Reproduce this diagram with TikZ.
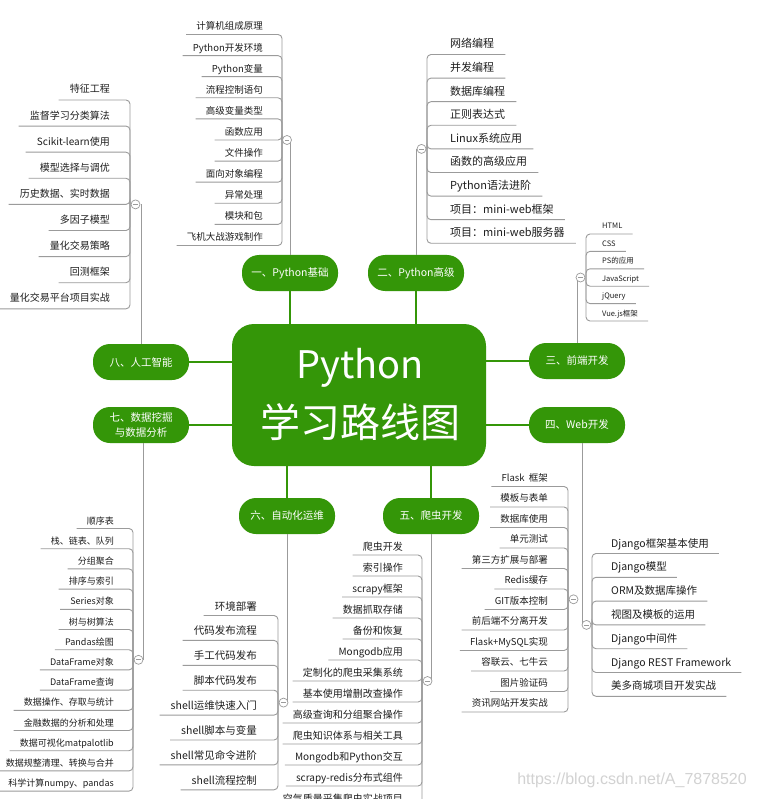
\documentclass[tikz,border=0pt]{standalone}
\usepackage{fontspec}
\setmainfont{Noto Sans CJK SC}
\newfontfamily\wmfont{Liberation Sans}
\usetikzlibrary{calc}
\definecolor{mygreen}{RGB}{52,150,8}
\definecolor{linegray}{RGB}{155,155,155}
\definecolor{txt}{RGB}{30,30,30}
\tikzset{
  topic/.style={fill=mygreen, text=white, rounded corners=17pt, minimum width=96pt, minimum height=36pt, inner sep=0pt, align=center, font=\fontsize{10.5}{15}\selectfont},
  gr/.style={draw=mygreen, line width=2.2pt},
  gl/.style={draw=linegray, line width=0.9pt, rounded corners=4pt},
  item/.style={inner sep=0pt, text height=0.8em, text depth=0.2em, text=txt},
  circ/.style={circle, draw=linegray, fill=white, line width=0.7pt, minimum size=9pt, inner sep=0pt,
    path picture={\draw[linegray, line width=0.7pt] ([xshift=-2.2pt]path picture bounding box.center) -- ([xshift=2.2pt]path picture bounding box.center);}},
}
\begin{document}
\begin{tikzpicture}[x=1pt, y=-1pt]
\useasboundingbox (0,0) rectangle (756,799);
\clip (0,0) rectangle (756,799);
\fill[white] (0,0) rectangle (756,799);

% centre
\node[fill=mygreen, rounded corners=22pt, minimum width=254pt, minimum height=142pt, inner sep=0pt] (C) at (359,395) {};
\node[text=white, font=\fontsize{38}{40}\selectfont, inner sep=0pt] (CP) at (360,368) {Python};
\node[text=white, font=\fontsize{40}{42}\selectfont, inner sep=0pt] (CQ) at (360,422) {学习路线图};

% topics
\node[topic] (T1) at (290,273) {一、Python基础};
\node[topic] (T2) at (416,273) {二、Python高级};
\node[topic] (T3) at (577,361) {三、前端开发};
\node[topic] (T4) at (577,425) {四、Web开发};
\node[topic] (T5) at (431,516) {五、爬虫开发};
\node[topic] (T6) at (287,516) {六、自动化运维};
\node[topic] (T7) at (141,425) {七、数据挖掘\\与数据分析};
\node[topic] (T8) at (141,362) {八、人工智能};

\draw[gr] (T1.south) -- (T1.south |- C.north);
\draw[gr] (T2.south) -- (T2.south |- C.north);
\draw[gr] (T3.west) -- (T3.west -| C.east);
\draw[gr] (T4.west) -- (T4.west -| C.east);
\draw[gr] (T5.north) -- (T5.north |- C.south);
\draw[gr] (T6.north) -- (T6.north |- C.south);
\draw[gr] (T7.east) -- (T7.east -| C.west);
\draw[gr] (T8.east) -- (T8.east -| C.west);

% circle positions
\coordinate (cA) at (287,140);
\coordinate (cH) at (135.5,204.4);
\coordinate (cB) at (421.5,148.9);
\coordinate (cC) at (580.5,277.5);
\coordinate (cF) at (573.5,599.3);
\coordinate (cD) at (586.5,624.9);
\coordinate (cS) at (138.5,659.8);
\coordinate (cR) at (283.5,702.6);
\coordinate (cW) at (427.5,681);

% parent gray lines
\draw[gl] (T1.north) -- (T1.north |- cA);
\draw[gl] (T2.north) -- (T2.north |- cB);
\draw[gl] (T3.north) -- (T3.north |- cC);
\draw[gl] (T8.north) -- (T8.north |- cH);
\draw[gl] ([xshift=5pt]T4.south) -- ([xshift=5pt]T4.south |- cD);
\draw[gl] ([xshift=2pt]T7.south) -- ([xshift=2pt]T7.south |- cS);
\draw[gl] (T6.south) -- (T6.south |- cR);
\draw[gl] (T5.south) -- (T5.south |- cW);

% list 一
\foreach \t [count=\i] in {计算机组成原理, Python开发环境, Python变量, 流程控制语句, 高级变量类型, 函数应用, 文件操作, 面向对象编程, 异常处理, 模块和包, 飞机大战游戏制作}{
  \node[item, font=\fontsize{9.5}{11}\selectfont, anchor=east] (A\i) at (263,{27+(\i-1)*21.1}) {\t};
  \draw[gl] ([xshift=-10pt,yshift=-7.5pt]A\i.west) -| (282,140);
}
% list 八
\foreach \t [count=\i] in {特征工程, 监督学习分类算法, Scikit-learn使用, 模型选择与调优, 历史数据、实时数据, 多因子模型, 量化交易策略, 回测框架, 量化交易平台项目实战}{
  \node[item, font=\fontsize{10}{12}\selectfont, anchor=east] (H\i) at (110,{90+(\i-1)*26.1}) {\t};
  \draw[gl] ([xshift=-11pt,yshift=-10pt]H\i.west) -| (130,204.4);
}
% list 二
\foreach \t [count=\i] in {网络编程, 并发编程, 数据库编程, 正则表达式, Linux系统应用, 函数的高级应用, Python语法进阶, 项目：mini-web框架, 项目：mini-web服务器}{
  \node[item, font=\fontsize{11}{13}\selectfont, anchor=west] (B\i) at (450,{45+(\i-1)*23.6}) {\t};
  \draw[gl] ([xshift=11pt,yshift=-9.5pt]B\i.east) -| (427,148.9);
}
% list 三
\foreach \t [count=\i] in {HTML, CSS, PS的应用, JavaScript, jQuery, Vue.js框架}{
  \node[item, font=\fontsize{7.5}{9}\selectfont, anchor=west] (E\i) at (602,{226+(\i-1)*17.4}) {\t};
  \draw[gl] ([xshift=10pt,yshift=-8pt]E\i.east) -| (586,277.5);
}
% list Flask
\foreach \t [count=\i] in {Flask\ \ 框架, 模板与表单, 数据库使用, 单元测试, 第三方扩展与部署, Redis缓存, GIT版本控制, 前后端不分离开发, Flask+MySQL实现, 容联云、七牛云, 图片验证码, 资讯网站开发实战}{
  \node[item, font=\fontsize{9.5}{11}\selectfont, anchor=east] (F\i) at (548,{478+(\i-1)*20.5}) {\t};
  \draw[gl] ([xshift=-10pt,yshift=-8.5pt]F\i.west) -| (568,599.3);
}
% list Django
\foreach \t [count=\i] in {Django框架基本使用, Django模型, ORM及数据库操作, 视图及模板的运用, Django中间件, Django REST Framework, 美多商城项目开发实战}{
  \node[item, font=\fontsize{10.5}{12}\selectfont, anchor=west] (D\i) at (611,{544+(\i-1)*23.8}) {\t};
  \draw[gl] ([xshift=10pt,yshift=-9.5pt]D\i.east) -| (592,624.9);
}
% list 七
\foreach \t [count=\i] in {顺序表, 栈、链表、队列, 分组聚合, 排序与索引, Series对象, 树与树算法, Pandas绘图, DataFrame对象, DataFrame查询, 数据操作、存取与统计, 金融数据的分析和处理, 数据可视化matpalotlib, 数据规整清理、转换与合并, 科学计算numpy、pandas}{
  \node[item, font=\fontsize{9}{10}\selectfont, anchor=east] (S\i) at (114,{521+(\i-1)*20.2}) {\t};
  \draw[gl] ([xshift=-10pt,yshift=-7.5pt]S\i.west) -| (133,659.8);
}
% list 六
\foreach \t [count=\i] in {环境部署, 代码发布流程, 手工代码发布, 脚本代码发布, shell运维快速入门, shell脚本与变量, shell常见命令进阶, shell流程控制}{
  \node[item, font=\fontsize{10.5}{12}\selectfont, anchor=east] (R\i) at (257,{607+(\i-1)*24.9}) {\t};
  \draw[gl] ([xshift=-11pt,yshift=-8.5pt]R\i.west) -| (278,702.6);
}
% list 五
\foreach \t [count=\i] in {爬虫开发, 索引操作, scrapy框架, 数据抓取存储, 备份和恢复, Mongodb应用, 定制化的爬虫采集系统, 基本使用增删改查操作, 高级查询和分组聚合操作, 爬虫知识体系与相关工具, Mongodb和Python交互, scrapy-redis分布式组件, 空气质量采集爬虫实战项目}{
  \node[item, font=\fontsize{10}{12}\selectfont, anchor=east] (W\i) at (403,{547+(\i-1)*21}) {\t};
  \draw[gl] ([xshift=-10pt,yshift=-8pt]W\i.west) -| (422,681);
}

% collapse circles
\foreach \c in {cA,cH,cB,cC,cF,cD,cS,cR,cW}{
  \node[circ] (k\c) at (\c) {};
}

% watermark
\node[font=\wmfont\fontsize{16}{18}\selectfont, text=gray!35, anchor=east, inner sep=0pt] (wm) at (747,780) {https://blog.csdn.net/A\_7878520};
\end{tikzpicture}
\end{document}
